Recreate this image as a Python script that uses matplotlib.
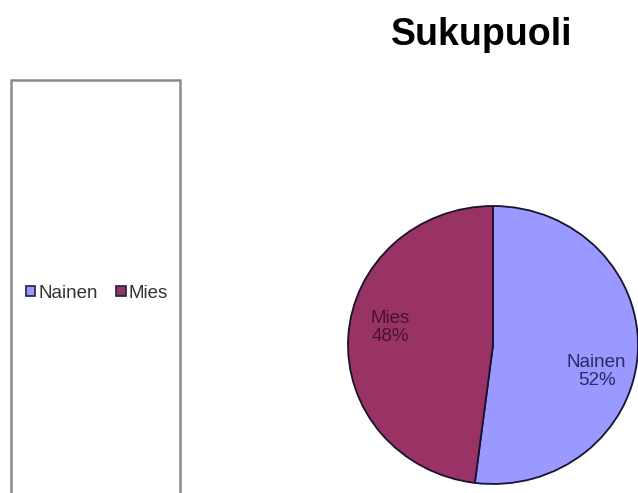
import numpy as np
import matplotlib.pyplot as plt
from matplotlib.patches import Rectangle, Patch

plt.rcParams['font.family'] = ['Liberation Sans', 'DejaVu Sans']

# Sukupuolijakauma (%)
categories = ['Nainen', 'Mies']
shares = [52, 48]
colors = ['#9999FF', '#993366']
label_colors = ['#2a2a6a', '#4a1030']

W, H = 638, 493
fig = plt.figure(figsize=(W / 100, H / 100), dpi=100)

# pie area in pixel terms: centre (493, 345), slightly wider than tall
cx, cy, rx, ry = 493, 345, 145, 139
ax = fig.add_axes([(cx - rx) / W, (H - cy - ry) / H, 2 * rx / W, 2 * ry / H])
wedges, _ = ax.pie(shares, colors=colors, startangle=90, counterclock=False,
                   wedgeprops=dict(edgecolor='#1a1030', linewidth=1.3))
ax.set_aspect('auto')
ax.set_xlim(-1, 1)
ax.set_ylim(-1, 1)

# data labels inside the slices
label_pos = [(-15, 0.74), (170, 0.72)]
for name, val, col, (ang, r) in zip(categories, shares, label_colors, label_pos):
    a = np.deg2rad(ang)
    ax.text(r * np.cos(a), r * np.sin(a), f'{name}\n{val}%', ha='center',
            va='center', fontsize=13.5, color=col, linespacing=1.12)

fig.text(482 / W, 1 - 45 / H, 'Sukupuoli', ha='center', va='baseline',
         fontsize=27, fontweight='bold', color='black')

# legend box on the left
fig.patches.append(Rectangle((11 / W, -0.05), (180 - 11) / W, 1 - 80 / H + 0.05,
                             transform=fig.transFigure, facecolor='white',
                             edgecolor='#8a8a8a', linewidth=1.8))
handles = [Patch(facecolor=c, edgecolor='#202040', linewidth=1.2) for c in colors]
leg = fig.legend(handles, categories, loc='center', bbox_to_anchor=(97 / W, 1 - 293 / H),
                 ncol=2, frameon=False, fontsize=13.5, handlelength=0.5,
                 handleheight=0.5, handletextpad=0.15, columnspacing=1.0)
for t in leg.get_texts():
    t.set_color('#333333')

fig.savefig('out.png', dpi=100)
